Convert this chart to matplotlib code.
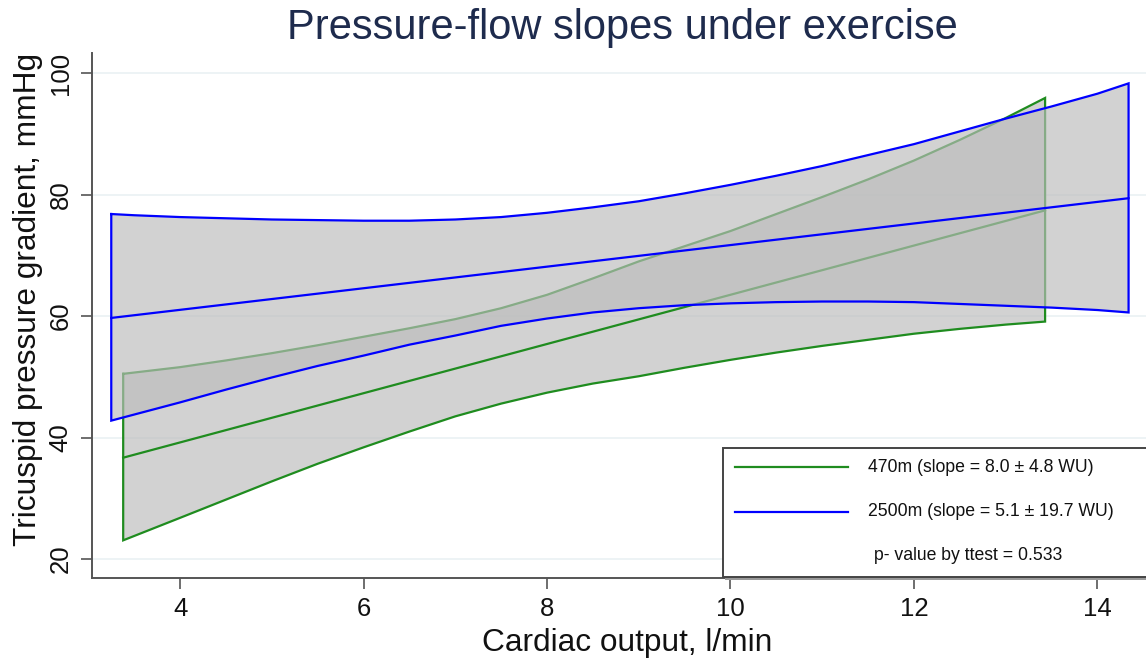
import matplotlib
matplotlib.use("Agg")
import matplotlib.pyplot as plt
from matplotlib.patches import Rectangle
from matplotlib.lines import Line2D

plt.rcParams['font.family'] = ['Liberation Sans', 'DejaVu Sans']

# ---- data ----
x_470 = [3.38, 4, 4.5, 5, 5.5, 6, 6.5, 7, 7.5, 8, 8.5, 9, 9.5, 10, 10.5, 11, 11.5,
         12, 12.5, 13, 13.43]
upper_470 = [50.5, 51.6, 52.7, 53.9, 55.2, 56.6, 58.0, 59.5, 61.3, 63.5, 66.2, 69.0,
             71.5, 74.0, 76.8, 79.6, 82.5, 85.6, 89.0, 92.6, 95.9]
lower_470 = [23.1, 26.8, 29.8, 32.8, 35.7, 38.4, 41.0, 43.5, 45.6, 47.4, 48.9, 50.1,
             51.5, 52.8, 54.0, 55.1, 56.1, 57.1, 57.9, 58.6, 59.1]
fit_x_470 = [3.38, 13.43]
fit_y_470 = [36.7, 77.4]

x_2500 = [3.25, 3.5, 4, 4.5, 5, 5.5, 6, 6.5, 7, 7.5, 8, 8.5, 9, 9.5, 10, 10.5, 11,
          11.5, 12, 12.5, 13, 13.5, 14, 14.34]
upper_2500 = [76.8, 76.6, 76.3, 76.1, 75.9, 75.8, 75.7, 75.7, 75.9, 76.3, 77.0, 77.9,
              78.9, 80.2, 81.6, 83.1, 84.7, 86.5, 88.3, 90.4, 92.5, 94.5, 96.6, 98.3]
lower_2500 = [42.8, 43.8, 45.8, 47.9, 49.9, 51.8, 53.5, 55.3, 56.8, 58.4, 59.6, 60.6,
              61.3, 61.8, 62.1, 62.3, 62.4, 62.4, 62.3, 62.0, 61.7, 61.4, 61.0, 60.6]
fit_x_2500 = [3.25, 14.34]
fit_y_2500 = [59.7, 79.4]

x_ticks = [4, 6, 8, 10, 12, 14]
y_ticks = [20, 40, 60, 80, 100]

legend_labels = ["470m (slope = 8.0 \u00b1 4.8 WU)",
                 "2500m (slope = 5.1 \u00b1 19.7 WU)"]
pvalue_text = "p- value by ttest = 0.533"

# ---- styling ----
W, H = 1146, 666
fig = plt.figure(figsize=(W / 100, H / 100), dpi=100)
ax = fig.add_axes([92 / W, (H - 578) / H, 1 - 92 / W, (578 - 53) / H])

green = (0.12, 0.55, 0.12)
blue = (0.0, 0.0, 1.0)
fill_rgba = (188 / 255, 188 / 255, 188 / 255, 0.66)
lw = 1.6


def band(ax, xs, up, lo, edge, z):
    px = list(xs) + list(xs)[::-1] + [xs[0]]
    py = list(up) + list(lo)[::-1] + [up[0]]
    ax.fill(px, py, facecolor=fill_rgba, edgecolor='none', zorder=z)
    ax.plot(px, py, color=edge, lw=lw, zorder=z + 0.5, solid_joinstyle='miter')


band(ax, x_470, upper_470, lower_470, green, 2)
ax.plot(fit_x_470, fit_y_470, color=green, lw=lw, zorder=2.6)
band(ax, x_2500, upper_2500, lower_2500, blue, 4)
ax.plot(fit_x_2500, fit_y_2500, color=blue, lw=lw, zorder=4.6)

ax.set_xlim(3.04, 14.53)
ax.set_ylim(16.9, 103.3)
ax.set_xticks(x_ticks)
ax.set_yticks(y_ticks)
ax.grid(axis='y', color='#eaf1f3', lw=1.2, zorder=0)
ax.set_axisbelow(True)

for s in ['top', 'right']:
    ax.spines[s].set_visible(False)
for s in ['left', 'bottom']:
    ax.spines[s].set_color('#555555')
    ax.spines[s].set_linewidth(1.4)

ax.tick_params(axis='both', direction='out', length=8, width=1.2, color='#555555',
               labelsize=18.5, labelcolor='#111111', pad=6)
for lab in ax.get_yticklabels():
    lab.set_rotation(90)
    lab.set_va('center')

ax.set_xlabel("Cardiac output, l/min", fontsize=22.8, color='#111111')
ax.set_ylabel("Tricuspid pressure gradient, mmHg", fontsize=22.8, color='#111111')
ax.xaxis.set_label_coords((627 - 92) / 1054, (578 - 643) / 525)
ax.xaxis.label.set_va('center')
ax.yaxis.set_label_coords((28 - 92) / 1054, (578 - 299) / 525)
ax.yaxis.label.set_va('center')
fig.text(622 / W, 1 - 28 / H, "Pressure-flow slopes under exercise", fontsize=30,
         color='#1e2b4d', ha='center', va='center')

# ---- legend box (manual, extends past the right edge like the reference) ----
def fx(p):
    return p / W


def fy(p):
    return 1 - p / H


shadow = Rectangle((fx(725), fy(580)), fx(1200) - fx(725), fy(450) - fy(580),
                   transform=fig.transFigure, facecolor='#9a9a9a', edgecolor='none',
                   zorder=9)
box = Rectangle((fx(723), fy(577)), fx(1200) - fx(723), fy(448) - fy(577),
                transform=fig.transFigure, facecolor='white', edgecolor='#444444',
                lw=1.4, zorder=10)
fig.add_artist(shadow)
fig.add_artist(box)
for yy, col, lab in [(467, green, legend_labels[0]), (512, blue, legend_labels[1])]:
    fig.add_artist(Line2D([fx(735), fx(848)], [fy(yy), fy(yy)], color=col, lw=lw,
                          transform=fig.transFigure, zorder=11))
    fig.text(fx(868), fy(yy), lab, fontsize=12.7, color='#111111', va='center',
             ha='left', zorder=11)
fig.text(fx(874), fy(556), pvalue_text, fontsize=12.7, color='#111111', va='center',
         ha='left', zorder=11)

fig.savefig("out.png", dpi=100)
